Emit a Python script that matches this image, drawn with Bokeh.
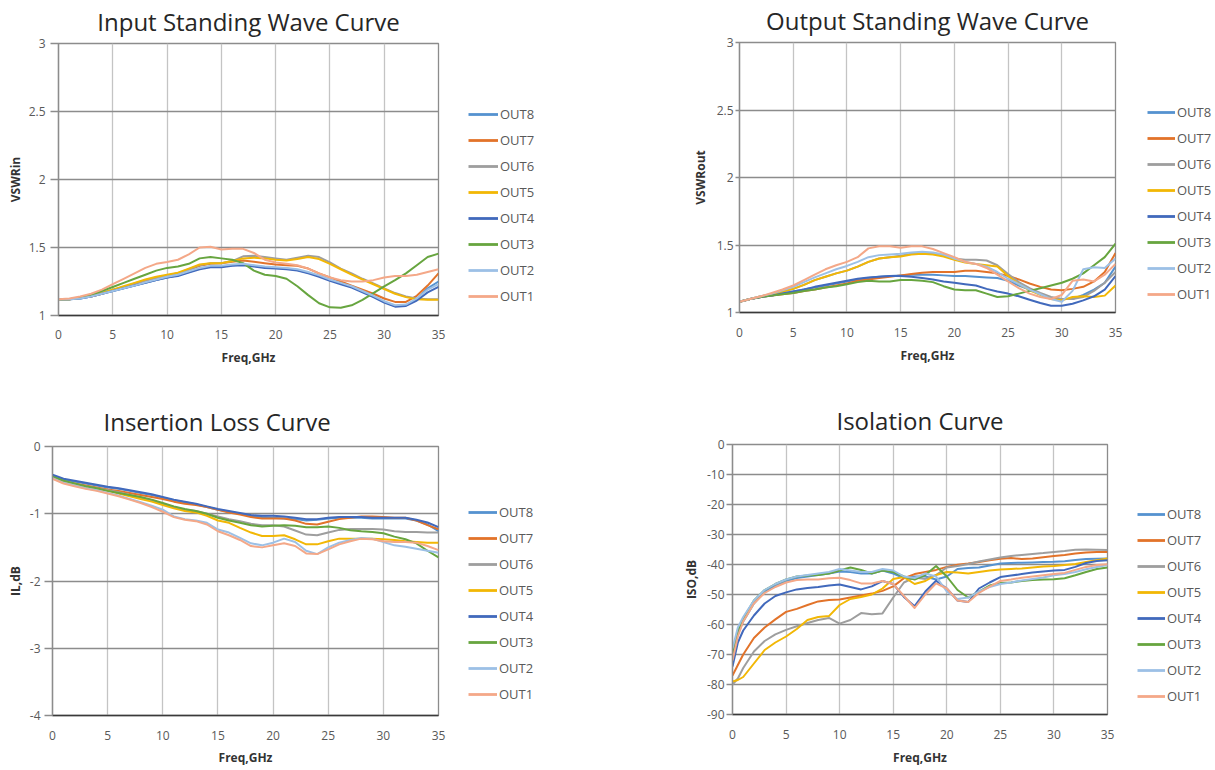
from bokeh.plotting import figure
from bokeh.models import (Range1d, FixedTicker, NumeralTickFormatter, Legend,
                          LegendItem)
from bokeh.layouts import row, column
from bokeh.embed import file_html
from bokeh.resources import INLINE

# ---------------- data ----------------
series_names = ["OUT8", "OUT7", "OUT6", "OUT5", "OUT4", "OUT3", "OUT2", "OUT1"]
freq = list(range(0, 36))
freq_iso = [0, 0.5, 1] + list(range(2, 36))

# Input standing wave (VSWRin)
vswr_in_out8 = [1.12, 1.12, 1.125, 1.14, 1.16, 1.18, 1.20, 1.22, 1.24, 1.26, 1.28, 1.295, 1.32, 1.345, 1.36, 1.36, 1.37, 1.375,
                1.365, 1.355, 1.35, 1.345, 1.335, 1.315, 1.29, 1.26, 1.235, 1.21, 1.175, 1.14, 1.10, 1.07, 1.075, 1.12, 1.20, 1.25]
vswr_in_out7 = [1.12, 1.12, 1.13, 1.14, 1.16, 1.185, 1.21, 1.23, 1.255, 1.275, 1.295, 1.31, 1.335, 1.365, 1.38, 1.385, 1.395, 1.405,
                1.395, 1.385, 1.375, 1.37, 1.365, 1.345, 1.31, 1.28, 1.25, 1.22, 1.19, 1.16, 1.125, 1.10, 1.10, 1.145, 1.22, 1.31]
vswr_in_out6 = [1.12, 1.12, 1.13, 1.145, 1.165, 1.19, 1.21, 1.235, 1.26, 1.28, 1.295, 1.31, 1.34, 1.37, 1.385, 1.385, 1.40, 1.435,
                1.44, 1.43, 1.42, 1.41, 1.425, 1.44, 1.43, 1.39, 1.345, 1.31, 1.27, 1.235, 1.20, 1.165, 1.14, 1.125, 1.12, 1.12]
vswr_in_out5 = [1.12, 1.12, 1.13, 1.145, 1.165, 1.19, 1.215, 1.24, 1.265, 1.285, 1.30, 1.315, 1.345, 1.375, 1.385, 1.385, 1.40, 1.42,
                1.425, 1.42, 1.41, 1.405, 1.415, 1.43, 1.415, 1.38, 1.34, 1.30, 1.265, 1.23, 1.195, 1.16, 1.135, 1.12, 1.115, 1.115]
vswr_in_out4 = [1.12, 1.12, 1.125, 1.14, 1.16, 1.18, 1.20, 1.22, 1.24, 1.26, 1.28, 1.29, 1.315, 1.34, 1.355, 1.355, 1.365, 1.37,
                1.36, 1.35, 1.345, 1.34, 1.33, 1.31, 1.285, 1.255, 1.23, 1.205, 1.17, 1.135, 1.095, 1.065, 1.07, 1.11, 1.17, 1.21]
vswr_in_out3 = [1.12, 1.12, 1.13, 1.15, 1.18, 1.21, 1.24, 1.27, 1.30, 1.33, 1.35, 1.36, 1.38, 1.42, 1.43, 1.42, 1.41, 1.385,
                1.33, 1.30, 1.29, 1.27, 1.215, 1.15, 1.09, 1.06, 1.057, 1.075, 1.115, 1.165, 1.214, 1.26, 1.31, 1.37, 1.43, 1.455]
vswr_in_out2 = [1.12, 1.12, 1.125, 1.14, 1.16, 1.18, 1.20, 1.22, 1.245, 1.265, 1.285, 1.30, 1.325, 1.35, 1.365, 1.365, 1.375, 1.38,
                1.37, 1.36, 1.355, 1.35, 1.34, 1.32, 1.295, 1.265, 1.24, 1.215, 1.18, 1.145, 1.105, 1.075, 1.08, 1.125, 1.19, 1.23]
vswr_in_out1 = [1.12, 1.125, 1.14, 1.16, 1.19, 1.23, 1.27, 1.31, 1.35, 1.38, 1.394, 1.41, 1.45, 1.50, 1.505, 1.485, 1.49, 1.49,
                1.46, 1.41, 1.39, 1.38, 1.37, 1.345, 1.31, 1.28, 1.26, 1.25, 1.25, 1.26, 1.28, 1.29, 1.29, 1.30, 1.32, 1.34]

# Output standing wave (VSWRout)
vswr_out_out8 = [1.08, 1.10, 1.115, 1.125, 1.14, 1.155, 1.17, 1.185, 1.20, 1.215, 1.23, 1.245, 1.255, 1.265, 1.27, 1.275, 1.28, 1.28,
                 1.28, 1.275, 1.27, 1.27, 1.265, 1.26, 1.255, 1.235, 1.20, 1.17, 1.135, 1.105, 1.10, 1.10, 1.13, 1.17, 1.22, 1.34]
vswr_out_out7 = [1.08, 1.10, 1.115, 1.125, 1.135, 1.145, 1.16, 1.17, 1.185, 1.20, 1.215, 1.235, 1.245, 1.255, 1.265, 1.275, 1.285, 1.295,
                 1.30, 1.30, 1.30, 1.31, 1.31, 1.30, 1.29, 1.27, 1.245, 1.215, 1.19, 1.17, 1.165, 1.175, 1.19, 1.23, 1.30, 1.44]
vswr_out_out6 = [1.08, 1.10, 1.12, 1.135, 1.155, 1.175, 1.205, 1.24, 1.265, 1.29, 1.31, 1.34, 1.375, 1.40, 1.41, 1.42, 1.435, 1.44,
                 1.435, 1.42, 1.40, 1.39, 1.39, 1.385, 1.35, 1.285, 1.225, 1.18, 1.145, 1.115, 1.10, 1.10, 1.115, 1.16, 1.22, 1.30]
vswr_out_out5 = [1.08, 1.10, 1.12, 1.135, 1.155, 1.175, 1.205, 1.24, 1.265, 1.29, 1.31, 1.34, 1.375, 1.40, 1.41, 1.415, 1.43, 1.435,
                 1.43, 1.415, 1.39, 1.37, 1.36, 1.35, 1.34, 1.27, 1.21, 1.165, 1.13, 1.10, 1.09, 1.115, 1.12, 1.115, 1.125, 1.20]
vswr_out_out4 = [1.08, 1.10, 1.115, 1.125, 1.14, 1.155, 1.17, 1.19, 1.205, 1.22, 1.235, 1.25, 1.26, 1.265, 1.27, 1.27, 1.265, 1.255,
                 1.245, 1.23, 1.22, 1.21, 1.20, 1.175, 1.155, 1.14, 1.12, 1.095, 1.07, 1.05, 1.05, 1.065, 1.09, 1.12, 1.17, 1.27]
vswr_out_out3 = [1.08, 1.10, 1.115, 1.125, 1.135, 1.145, 1.16, 1.17, 1.185, 1.195, 1.21, 1.225, 1.235, 1.23, 1.23, 1.24, 1.24, 1.235,
                 1.225, 1.195, 1.17, 1.165, 1.165, 1.14, 1.115, 1.12, 1.14, 1.16, 1.18, 1.20, 1.22, 1.25, 1.29, 1.35, 1.41, 1.51]
vswr_out_out2 = [1.08, 1.10, 1.12, 1.14, 1.165, 1.19, 1.225, 1.26, 1.29, 1.32, 1.345, 1.375, 1.41, 1.425, 1.43, 1.435, 1.445, 1.45,
                 1.445, 1.43, 1.40, 1.375, 1.36, 1.34, 1.30, 1.25, 1.21, 1.17, 1.135, 1.10, 1.08, 1.16, 1.32, 1.335, 1.33, 1.40]
vswr_out_out1 = [1.08, 1.10, 1.12, 1.145, 1.17, 1.20, 1.24, 1.28, 1.32, 1.35, 1.375, 1.41, 1.475, 1.49, 1.49, 1.48, 1.49, 1.49,
                 1.47, 1.44, 1.41, 1.376, 1.36, 1.33, 1.28, 1.23, 1.18, 1.14, 1.115, 1.10, 1.13, 1.235, 1.245, 1.23, 1.28, 1.36]

# Insertion loss (IL, dB)
il_out8 = [-0.43, -0.49, -0.52, -0.55, -0.58, -0.61, -0.63, -0.66, -0.69, -0.72, -0.76, -0.80, -0.83, -0.86, -0.90, -0.94, -0.97, -1.00,
           -1.03, -1.05, -1.06, -1.07, -1.08, -1.10, -1.09, -1.07, -1.06, -1.06, -1.06, -1.07, -1.07, -1.07, -1.07, -1.10, -1.16, -1.26]
il_out7 = [-0.47, -0.52, -0.55, -0.58, -0.61, -0.64, -0.66, -0.69, -0.72, -0.75, -0.78, -0.82, -0.85, -0.87, -0.90, -0.94, -0.98, -1.01,
           -1.05, -1.07, -1.07, -1.07, -1.10, -1.15, -1.16, -1.12, -1.08, -1.06, -1.04, -1.04, -1.05, -1.06, -1.06, -1.10, -1.17, -1.23]
il_out6 = [-0.47, -0.52, -0.56, -0.59, -0.62, -0.65, -0.68, -0.72, -0.76, -0.80, -0.85, -0.90, -0.94, -0.96, -1.00, -1.04, -1.08, -1.11,
           -1.15, -1.17, -1.17, -1.19, -1.25, -1.31, -1.32, -1.28, -1.24, -1.225, -1.225, -1.225, -1.235, -1.26, -1.27, -1.27, -1.28, -1.28]
il_out5 = [-0.47, -0.53, -0.57, -0.60, -0.63, -0.66, -0.70, -0.74, -0.78, -0.82, -0.87, -0.92, -0.96, -0.98, -1.03, -1.10, -1.135, -1.21,
           -1.28, -1.33, -1.33, -1.32, -1.38, -1.455, -1.455, -1.41, -1.37, -1.37, -1.37, -1.37, -1.38, -1.39, -1.41, -1.42, -1.43, -1.43]
il_out4 = [-0.42, -0.48, -0.51, -0.54, -0.57, -0.60, -0.62, -0.65, -0.68, -0.71, -0.75, -0.79, -0.82, -0.85, -0.89, -0.93, -0.96, -0.99,
           -1.02, -1.03, -1.03, -1.04, -1.06, -1.08, -1.08, -1.06, -1.05, -1.05, -1.05, -1.06, -1.06, -1.06, -1.06, -1.09, -1.13, -1.20]
il_out3 = [-0.45, -0.51, -0.55, -0.59, -0.62, -0.66, -0.69, -0.72, -0.75, -0.79, -0.84, -0.89, -0.93, -0.96, -1.00, -1.06, -1.10, -1.135,
           -1.17, -1.19, -1.18, -1.17, -1.18, -1.20, -1.20, -1.19, -1.21, -1.245, -1.26, -1.27, -1.29, -1.34, -1.38, -1.44, -1.55, -1.65]
il_out2 = [-0.47, -0.54, -0.58, -0.62, -0.65, -0.69, -0.73, -0.78, -0.83, -0.88, -0.94, -1.04, -1.08, -1.10, -1.135, -1.235, -1.28, -1.36,
           -1.44, -1.47, -1.43, -1.37, -1.42, -1.55, -1.60, -1.50, -1.43, -1.39, -1.36, -1.37, -1.42, -1.47, -1.49, -1.52, -1.55, -1.58]
il_out1 = [-0.48, -0.55, -0.59, -0.63, -0.66, -0.70, -0.74, -0.79, -0.84, -0.90, -0.97, -1.05, -1.09, -1.11, -1.16, -1.26, -1.32, -1.39,
           -1.48, -1.50, -1.47, -1.44, -1.48, -1.59, -1.60, -1.53, -1.455, -1.41, -1.37, -1.38, -1.41, -1.42, -1.42, -1.43, -1.48, -1.54]

# Isolation (ISO, dB) -- on freq_iso
iso_out8 = [-70, -63, -59, -53, -49, -47, -45.5, -44.5, -44, -43.5, -43, -42.3, -42.5, -43, -43, -42, -43, -44.5, -44, -44,
            -45, -44, -41.5, -41.2, -41, -40.3, -39.7, -39.5, -39.4, -39.3, -39.2, -39.1, -38.9, -38.5, -38.2, -38.1, -38]
iso_out7 = [-77, -73.5, -70, -64.5, -61, -58.3, -55.8, -54.8, -53.5, -52.3, -51.8, -51.7, -51, -50.3, -49.7, -48.8, -47.3, -44.6, -43.2, -42.5,
            -41.8, -40.8, -40.1, -39.7, -39.2, -38.6, -38.1, -37.8, -38.2, -38, -37.6, -37.2, -36.8, -36.3, -36, -35.8, -35.8]
iso_out6 = [-80, -78, -74.5, -69, -65.5, -63.3, -61.8, -60.6, -59.5, -58.5, -57.8, -59.7, -58.5, -56.2, -56.6, -56.3, -51, -46, -44.3, -44.8,
            -43.5, -41, -40.5, -39.8, -39, -38.3, -37.7, -37.2, -36.8, -36.5, -36.2, -35.8, -35.5, -35.1, -35, -35.1, -35.2]
iso_out5 = [-79, -78.5, -77.5, -73, -68.5, -66, -64, -61.5, -58.5, -57.5, -57.2, -53.5, -51.5, -50.8, -50, -48, -44.8, -44.2, -46.5, -45.5,
            -43.5, -42.5, -42.7, -43, -42.5, -42, -41.7, -41.5, -41.3, -41, -40.7, -40.5, -40.2, -39.8, -39.2, -38.6, -38]
iso_out4 = [-74, -66, -62, -57, -53, -50.5, -49.3, -48.3, -47.8, -47.5, -47, -46.7, -47.5, -48.3, -47.3, -45.5, -46.5, -50.8, -53.9, -49,
            -45.4, -48, -52, -52.5, -48, -46, -44.2, -43.7, -43.2, -42.7, -42.3, -42, -41.8, -40.8, -39.5, -38.8, -38.6]
iso_out3 = [-70, -62, -58, -52, -48.5, -46.5, -45, -44, -43.7, -43.5, -43, -42, -41, -41.8, -43, -42, -42.5, -44, -45, -43.5,
            -40.5, -44, -48.5, -51, -49, -47, -46.2, -46, -45.5, -45.2, -45, -44.9, -44.6, -43.6, -42.5, -41.5, -41]
iso_out2 = [-68, -61, -57.5, -52, -48.5, -46.5, -45, -44, -43.5, -43, -42.5, -41.5, -42, -42.5, -42.5, -41.5, -42, -44, -44.5, -43,
            -44, -49, -51.5, -51, -49, -47.5, -46.5, -46, -45.3, -44.8, -44.3, -43.6, -43.2, -42.5, -41.6, -40.8, -40.2]
iso_out1 = [-72, -64, -59, -53, -49.5, -47.5, -46, -45.2, -45, -45, -44.6, -44.4, -45.2, -46.3, -46.3, -45.5, -46.5, -50.5, -54.5, -50,
            -46.3, -48, -52, -52.5, -49.5, -47.4, -45.5, -45, -44.4, -44, -43.6, -43.2, -42.8, -41.8, -40.8, -40.2, -39.9]

x_ticks = [0, 5, 10, 15, 20, 25, 30, 35]
vswr_ticks = [1, 1.5, 2, 2.5, 3]
il_ticks = [0, -1, -2, -3, -4]
iso_ticks = [0, -10, -20, -30, -40, -50, -60, -70, -80, -90]

colors = ["#5592D0", "#E2732A", "#9E9E9E", "#F2B705", "#4169BC", "#67A53F", "#9CC0E6", "#F4A888"]

FONT = "Open Sans"
RB = 12  # right border of each plot figure


def make_chart(title, ylabel, xs, ys_list, yr, yticks, g):
    fw, fh = g["frame"]
    pw = g["bl"] + fw + RB
    p = figure(width=pw, height=g["h"], output_backend="svg", toolbar_location=None,
               x_range=Range1d(0, 35), y_range=Range1d(*yr),
               min_border_left=g["bl"], min_border_right=RB,
               min_border_top=g["bt"], min_border_bottom=g["h"] - g["bt"] - fh,
               background_fill_color="white", border_fill_color="white")
    p.outline_line_color = "#8C8C8C"
    p.outline_line_width = 1.3

    p.title.text = title
    p.title.text_font = FONT
    p.title.text_font_size = "24px"
    p.title.text_font_style = "normal"
    p.title.text_color = "#262626"
    p.title.align = g["talign"]
    p.title.offset = g["toff"]
    p.title.vertical_align = g["tva"]
    p.title.standoff = g["tst"]

    p.xaxis.ticker = FixedTicker(ticks=x_ticks)
    p.yaxis.ticker = FixedTicker(ticks=yticks)
    p.xaxis.formatter = NumeralTickFormatter(format="0")
    p.yaxis.formatter = NumeralTickFormatter(format="0.[0]")
    p.xaxis.axis_label = "Freq,GHz"
    p.yaxis.axis_label = ylabel
    for ax in (p.xaxis, p.yaxis):
        ax.axis_label_text_font = FONT
        ax.axis_label_text_font_size = "12px"
        ax.axis_label_text_font_style = "bold"
        ax.axis_label_text_color = "#333333"
        ax.major_label_text_font = FONT
        ax.major_label_text_font_size = "12px"
        ax.major_label_text_color = "#595959"
        ax.minor_tick_line_color = None
        ax.major_tick_in = 0
    p.xaxis.axis_line_color = "#3A3A3A"
    p.xaxis.axis_line_width = 1.3
    p.xaxis.major_tick_out = 0
    p.xaxis.major_label_standoff = g["xls"]
    p.xaxis.axis_label_standoff = g["xas"]
    p.yaxis.axis_line_color = "#8C8C8C"
    p.yaxis.axis_line_width = 1.3
    p.yaxis.major_tick_line_color = "#8C8C8C"
    p.yaxis.major_tick_line_width = 1.3
    p.yaxis.major_tick_out = g["yto"]
    p.yaxis.major_label_standoff = g["yls"]
    p.yaxis.axis_label_standoff = g["yas"]

    p.xgrid.ticker = FixedTicker(ticks=x_ticks)
    p.ygrid.ticker = FixedTicker(ticks=yticks)
    p.xgrid.grid_line_color = "#C4C4C4"
    p.xgrid.grid_line_width = 1.3
    p.ygrid.grid_line_color = "#8C8C8C"
    p.ygrid.grid_line_width = 1.3

    for ys, col in zip(ys_list, colors):
        p.line(xs, ys, line_color=col, line_width=2, line_join="round")

    # legend panel: a bare figure placed to the right of the plot
    # (its frame is aligned with the plot frame by the row layout)
    lw = g["w"] - pw
    q = figure(width=lw, height=g["h"], output_backend="svg", toolbar_location=None,
               x_axis_location=None, y_axis_location=None,
               x_range=Range1d(0, 35), y_range=Range1d(*yr),
               min_border=0, min_border_left=0, min_border_right=0,
               min_border_top=0, min_border_bottom=0,
               background_fill_color="white", border_fill_color="white")
    q.outline_line_color = None
    q.grid.visible = False
    items = []
    for name, ys, col in zip(series_names, ys_list, colors):
        r = q.line(xs, ys, line_color=col, line_width=2.8, visible=False)
        items.append(LegendItem(label=name, renderers=[r]))
    leg = Legend(items=items, location=(g["lx"] - pw, g["ly"]), orientation="vertical",
                 glyph_width=g["gw"], glyph_height=20, label_height=20, spacing=6,
                 padding=0, margin=0, label_standoff=2,
                 label_text_font=FONT, label_text_font_size="13px", label_text_color="#595959",
                 border_line_alpha=0, background_fill_alpha=0)
    q.add_layout(leg)
    return row(p, q)


g1 = dict(w=600, h=393, bl=58, bt=43, frame=(380, 272), xls=14, xas=7, yto=8, yls=5, yas=2,
          lx=468, ly=9, gw=30, talign="center", toff=0, tst=8, tva="top")
g2 = dict(w=614, h=393, bl=139, bt=42, frame=(376, 270), xls=15, xas=7, yto=4, yls=2, yas=5,
          lx=547, ly=8, gw=28, talign="center", toff=0, tst=7, tva="top")
g3 = dict(w=600, h=375, bl=52, bt=53, frame=(386, 272), xls=15, xas=6, yto=8, yls=4, yas=3,
          lx=468, ly=11, gw=29, talign="left", toff=51, tst=18, tva="bottom")
g4 = dict(w=614, h=375, bl=132, bt=51, frame=(375, 270), xls=15, xas=7, yto=6, yls=2, yas=4,
          lx=537, ly=8, gw=28, talign="center", toff=0, tst=16, tva="bottom")

c1 = make_chart("Input Standing Wave Curve", "VSWRin", freq,
                [vswr_in_out8, vswr_in_out7, vswr_in_out6, vswr_in_out5,
                 vswr_in_out4, vswr_in_out3, vswr_in_out2, vswr_in_out1],
                (1, 3), vswr_ticks, g1)
c2 = make_chart("Output Standing Wave Curve", "VSWRout", freq,
                [vswr_out_out8, vswr_out_out7, vswr_out_out6, vswr_out_out5,
                 vswr_out_out4, vswr_out_out3, vswr_out_out2, vswr_out_out1],
                (1, 3), vswr_ticks, g2)
c3 = make_chart("Insertion Loss Curve", "IL,dB", freq,
                [il_out8, il_out7, il_out6, il_out5, il_out4, il_out3, il_out2, il_out1],
                (-4, 0), il_ticks, g3)
c4 = make_chart("Isolation Curve", "ISO,dB", freq_iso,
                [iso_out8, iso_out7, iso_out6, iso_out5, iso_out4, iso_out3, iso_out2, iso_out1],
                (-90, 0), iso_ticks, g4)

layout = column(row(c1, c2), row(c3, c4))
open("out.html", "w").write(file_html(layout, INLINE))
